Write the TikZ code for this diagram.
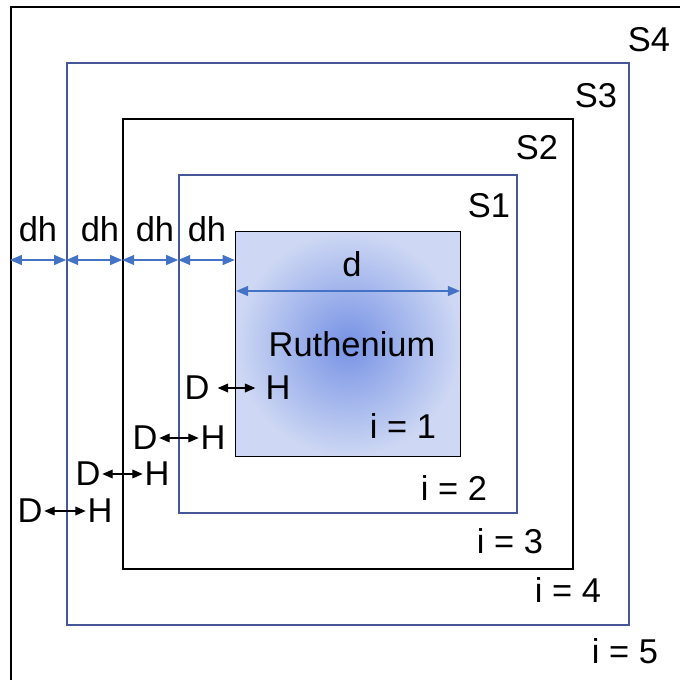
\documentclass[tikz,border=0pt]{standalone}
\usepackage{fontspec}
\setmainfont{Liberation Sans}
\usetikzlibrary{arrows.meta,positioning}
\definecolor{shellblue}{RGB}{70,86,150}
\definecolor{dimblue}{RGB}{68,114,196}
\definecolor{rucore}{RGB}{118,146,228}
\definecolor{ruedge}{RGB}{206,216,244}
\tikzset{
  shell/.style={draw, line width=1.1pt, minimum size=#1, inner sep=0pt},
  blueshell/.style={shell=#1, draw=shellblue},
  tag/.style={font=\fontsize{24.5}{29}\selectfont, inner sep=0pt},
  atom/.style={tag, inner xsep=0.04cm},
  dim/.style={{Triangle[length=3mm,width=2.5mm]}-{Triangle[length=3mm,width=2.5mm]}, dimblue, line width=0.8pt},
  hop/.style={{Triangle[length=2.6mm,width=2.2mm]}-{Triangle[length=2.6mm,width=2.2mm]}, line width=0.8pt},
}
\begin{document}
\begin{tikzpicture}[x=0.025cm,y=-0.025cm]
  \useasboundingbox (0,0) rectangle (680,680);
  % nested shells around the metal core
  \node[shell=16.85cm, line width=1.5pt] (frame) at (348,344) {};
  \node[blueshell=14.05cm] (sq4) at (348,344) {};
  \node[shell=11.25cm] (sq3) at (348,344) {};
  \node[blueshell=8.45cm] (sq2) at (348,344) {};
  \node[shell=5.625cm, shade, inner color=rucore, outer color=ruedge] (sq1) at (348,344) {};
  % shell names and indices
  \node[tag] (s1) at (489,206) {S1};
  \node[tag] (s2) at (537,148) {S2};
  \node[tag] (s3) at (596,96) {S3};
  \node[tag] (s4) at (649,40) {S4};
  \node[tag] (ru) at (352,344) {Ruthenium};
  \node[tag] (i1) at (403,426) {i = 1};
  \node[tag] (i2) at (454,488) {i = 2};
  \node[tag] (i3) at (510,541) {i = 3};
  \node[tag] (i4) at (568,590) {i = 4};
  \node[tag] (i5) at (625,651) {i = 5};
  % shell thickness dh and core size d
  \coordinate (dhy) at (0,260);
  \coordinate (dy) at (0,291);
  \node[tag] (dh4) at (38,229) {dh};
  \node[tag] (dh3) at (100,229) {dh};
  \node[tag] (dh2) at (155,229) {dh};
  \node[tag] (dh1) at (207,229) {dh};
  \draw[dim] (frame.west |- dhy) -- (sq4.west |- dhy);
  \draw[dim] (sq4.west |- dhy) -- (sq3.west |- dhy);
  \draw[dim] (sq3.west |- dhy) -- (sq2.west |- dhy);
  \draw[dim] (sq2.west |- dhy) -- (sq1.west |- dhy);
  \node[tag] (dlab) at (352,264) {d};
  \draw[dim] ([xshift=1pt]sq1.west |- dy) -- ([xshift=-1pt]sq1.east |- dy);
  % D/H exchange across each shell boundary
  \node[atom, inner xsep=0.2cm] (d1) at (197,388) {D};
  \node[atom, inner xsep=0.25cm] (h1) at (278,388) {H};
  \node[atom] (d2) at (145,438) {D};
  \node[atom] (h2) at (213,438) {H};
  \node[atom] (d3) at (88,474) {D};
  \node[atom] (h3) at (157,474) {H};
  \node[atom] (d4) at (30,511) {D};
  \node[atom] (h4) at (100,511) {H};
  \draw[hop] (d1) -- (h1);
  \draw[hop] (d2) -- (h2);
  \draw[hop] (d3) -- (h3);
  \draw[hop] (d4) -- (h4);
\end{tikzpicture}
\end{document}
